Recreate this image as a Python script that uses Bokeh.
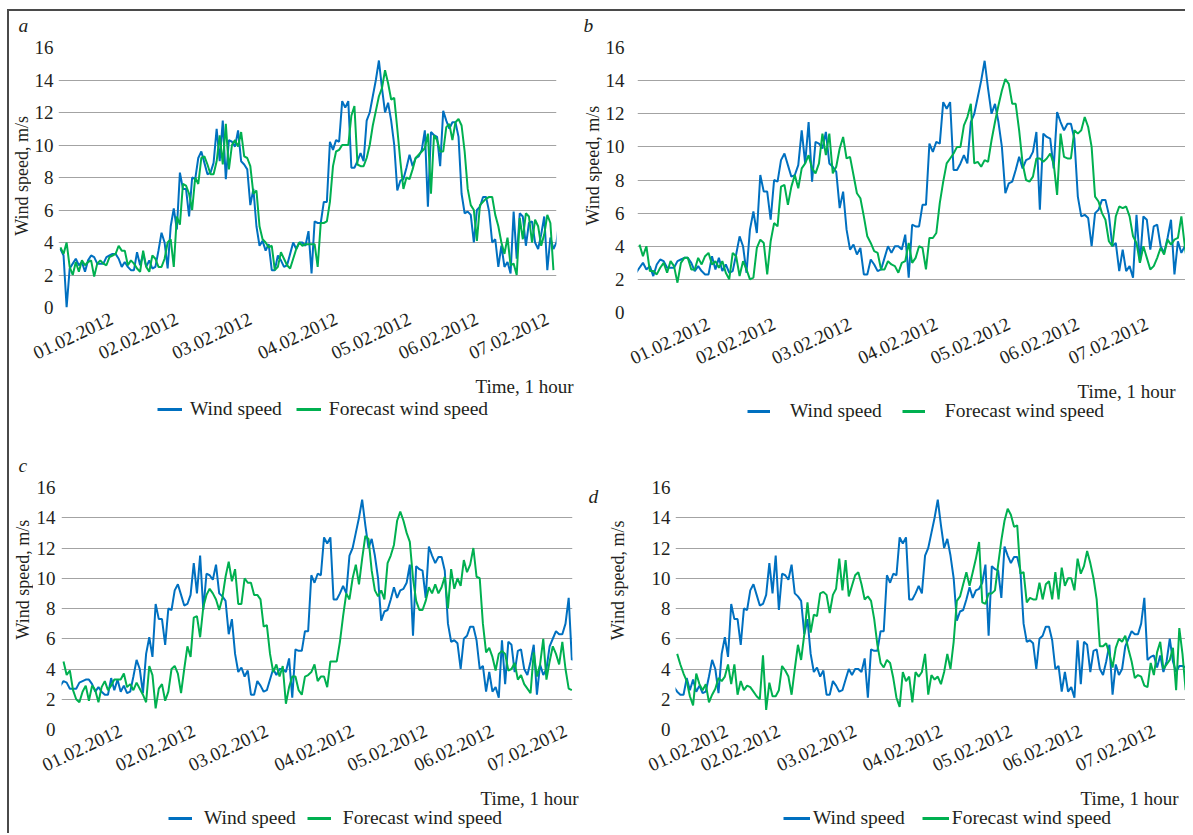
import math
from bokeh.plotting import figure
from bokeh.models import FixedTicker, Label, Legend, LegendItem, Range1d, Spacer
from bokeh.layouts import row, column
from bokeh.embed import file_html
from bokeh.resources import INLINE

# ---------------- data ----------------
date_labels = ["01.02.2012", "02.02.2012", "03.02.2012", "04.02.2012",
               "05.02.2012", "06.02.2012", "07.02.2012"]
y_ticks = [0, 2, 4, 6, 8, 10, 12, 14, 16]

# measured wind speed, hourly (hour 0 .. 183)
wind_speed = [
    3.6, 3.2, 0.0, 2.4, 2.7, 3.0, 2.6, 2.8, 2.2, 2.9,
    3.2, 3.1, 2.7, 2.7, 2.7, 3.1, 3.2, 3.3, 3.3, 3.0,
    2.5, 2.8, 2.5, 2.3, 2.3, 3.4, 2.6, 3.3, 2.5, 2.9,
    2.4, 2.5, 3.5, 4.6, 4.0, 2.4, 5.0, 6.1, 4.8, 8.3,
    7.3, 7.3, 5.6, 8.0, 7.9, 9.2, 9.6, 8.9, 8.2, 8.3,
    8.9, 11.0, 9.0, 11.5, 7.9, 10.3, 10.2, 9.9, 10.9, 9.0,
    8.8, 8.5, 6.3, 7.3, 5.0, 3.8, 4.1, 3.5, 3.9, 2.3,
    2.3, 3.2, 2.9, 2.5, 2.6, 3.3, 4.0, 3.6, 4.0, 4.0,
    3.8, 4.7, 2.1, 5.3, 5.2, 5.2, 6.5, 6.5, 10.2, 9.7,
    10.3, 10.2, 12.7, 12.3, 12.7, 8.6, 8.6, 9.0, 9.5, 9.0,
    11.5, 12.0, 13.0, 14.0, 15.2, 13.5, 12.0, 12.6, 11.5, 10.0,
    7.2, 7.8, 7.9, 8.6, 9.4, 8.7, 9.2, 9.3, 9.7, 10.9,
    6.2, 10.8, 10.6, 10.5, 8.7, 12.1, 11.5, 11.0, 11.4, 11.4,
    10.5, 7.0, 5.8, 5.9, 5.7, 4.0, 6.0, 6.2, 6.8, 6.8,
    5.9, 4.0, 4.2, 2.5, 3.8, 2.5, 2.8, 2.1, 5.9, 3.0,
    5.8, 5.6, 3.8, 5.2, 5.3, 4.0, 3.6, 4.5, 5.6, 2.3,
    4.3, 3.6, 4.0, 5.5, 6.0, 6.5, 6.3, 6.3, 7.0, 8.7,
    4.6, 4.8, 4.9, 4.1, 4.9, 3.8, 4.5, 6.0, 4.5, 3.8,
    4.2, 4.2, 4.1, 4.0,
]

# forecast, panel a (hours 0 .. 161)
forecast_a = [
    3.7, 3.3, 4.0, 2.5, 2.0, 2.8, 2.2, 2.9, 2.6, 2.8,
    2.9, 1.9, 2.7, 2.9, 2.7, 2.6, 3.1, 3.2, 3.3, 3.8,
    3.5, 3.5, 2.6, 2.9, 2.7, 2.4, 2.2, 3.5, 2.5, 2.2,
    3.2, 3.0, 2.5, 2.5, 3.0, 4.0, 4.2, 2.5, 5.6, 5.1,
    7.6, 7.5, 7.0, 6.0, 8.0, 7.6, 9.2, 9.3, 8.8, 8.2,
    8.2, 9.0, 10.6, 8.8, 11.3, 8.5, 10.0, 10.3, 9.9, 10.8,
    9.3, 9.2, 8.7, 7.0, 7.2, 5.0, 4.2, 4.0, 3.7, 3.8,
    2.3, 2.5, 3.4, 3.0, 2.6, 2.4, 3.0, 3.6, 4.0, 3.8,
    3.9, 3.9, 3.9, 3.9, 2.5, 5.2, 5.2, 5.3, 6.5, 8.7,
    9.6, 9.7, 10.0, 10.0, 10.0, 11.8, 12.4, 8.8, 8.7, 8.7,
    9.2, 10.0, 11.2, 12.1, 13.0, 13.5, 14.6, 13.8, 12.8, 12.9,
    11.0, 9.0, 7.3, 8.0, 7.9, 8.5, 9.2, 9.4, 9.6, 9.8,
    10.7, 7.0, 10.6, 10.3, 9.6, 9.6, 11.1, 11.3, 10.3, 11.4,
    11.6, 11.2, 9.6, 7.3, 6.3, 6.0, 4.1, 6.3, 6.5, 6.7,
    6.8, 6.8, 5.7, 5.0, 4.0, 3.3, 4.3, 2.6, 2.7, 2.0,
    5.5, 4.2, 5.8, 5.6, 4.0, 5.4, 5.0, 3.8, 4.5, 5.7,
    5.2, 2.3,
]

# forecast, panel b (hours 4 .. 163)
forecast_b = [
    4.1, 3.4, 4.0, 2.5, 2.5, 2.3, 2.7, 3.0, 2.4, 3.1,
    2.8, 1.8, 3.0, 3.3, 3.3, 2.6, 2.6, 3.3, 2.9, 3.4,
    3.6, 2.9, 3.1, 2.7, 3.1, 2.4, 2.0, 3.6, 3.4, 2.2,
    3.1, 2.6, 2.0, 2.1, 3.9, 4.4, 4.2, 2.3, 4.3, 5.4,
    5.2, 7.6, 7.7, 6.5, 7.6, 8.3, 7.5, 8.7, 9.0, 9.5,
    8.7, 8.4, 9.0, 10.8, 9.5, 10.8, 8.4, 8.8, 9.9, 10.6,
    9.3, 9.4, 8.3, 7.2, 6.9, 5.8, 4.6, 4.2, 3.7, 3.6,
    2.6, 2.6, 3.1, 2.9, 2.8, 2.4, 3.0, 3.1, 4.2, 3.0,
    3.3, 4.0, 3.9, 2.6, 4.5, 4.5, 4.8, 6.6, 7.9, 9.0,
    9.3, 9.6, 10.0, 10.0, 11.3, 11.8, 12.6, 9.0, 9.1, 8.8,
    9.2, 9.1, 10.4, 11.5, 12.5, 13.4, 14.1, 13.8, 12.6, 12.6,
    11.0, 9.0, 8.0, 7.9, 8.2, 9.3, 9.3, 9.1, 9.3, 9.6,
    9.0, 7.1, 10.8, 9.4, 9.3, 9.3, 11.0, 10.8, 11.0, 11.8,
    11.2, 10.0, 7.0, 6.7, 6.0, 5.6, 4.3, 4.0, 5.8, 6.4,
    6.3, 6.4, 5.8, 4.6, 4.2, 3.0, 4.0, 3.3, 2.6, 2.8,
    3.3, 3.9, 3.5, 4.4, 4.1, 4.4, 4.5, 5.8, 4.0, 2.6,
]

# forecast, panel c (hours 10 .. 170)
forecast_c = [
    4.5, 3.6, 3.9, 2.6, 2.0, 1.8, 2.5, 2.9, 1.9, 2.9,
    2.6, 1.8, 2.8, 3.2, 2.6, 2.9, 3.3, 3.3, 3.3, 3.7,
    2.8, 3.0, 2.6, 3.1, 2.7, 2.3, 1.8, 4.2, 3.6, 1.4,
    2.7, 3.0, 1.9, 2.5, 4.0, 4.2, 3.7, 2.4, 4.0, 5.5,
    4.8, 7.4, 7.5, 6.1, 8.1, 8.9, 9.3, 9.0, 8.6, 7.9,
    8.7, 10.1, 11.1, 9.8, 10.6, 8.3, 8.3, 10.0, 9.7, 9.7,
    8.9, 8.9, 8.6, 6.8, 6.9, 5.0, 3.8, 4.3, 3.5, 4.2,
    1.7, 2.8, 3.5, 3.5, 2.6, 2.3, 3.5, 3.6, 3.8, 4.3,
    3.2, 3.5, 3.5, 2.8, 4.5, 4.5, 4.5, 5.8, 7.5, 9.0,
    8.6, 10.0, 10.9, 9.6, 11.3, 12.8, 12.6, 10.5, 9.2, 8.8,
    9.2, 8.6, 11.0, 11.5, 12.2, 13.8, 14.4, 13.8, 13.0, 12.4,
    10.0, 8.5, 7.9, 7.9, 8.5, 9.4, 9.0, 9.6, 9.0, 9.4,
    10.1, 8.0, 10.6, 9.3, 10.0, 9.5, 11.2, 10.4, 10.9, 12.0,
    10.1, 10.0, 7.0, 5.1, 5.4, 4.8, 3.9, 5.0, 5.2, 5.0,
    3.9, 4.0, 4.4, 3.3, 3.6, 3.0, 2.7, 2.4, 5.1, 3.5,
    4.3, 6.0, 3.3, 4.5, 5.5, 5.0, 4.3, 5.8, 4.0, 2.7,
    2.6,
]

# forecast, panel d (hours 22 .. 182)
forecast_d = [
    5.0, 4.3, 3.7, 3.2, 2.2, 1.6, 3.7, 3.0, 2.6, 3.0,
    1.8, 2.3, 2.7, 3.4, 3.2, 3.5, 4.3, 3.0, 4.3, 2.3,
    3.2, 2.6, 2.9, 2.8, 2.5, 2.2, 2.0, 4.9, 1.3, 3.1,
    2.2, 2.2, 2.6, 4.2, 3.9, 3.5, 2.3, 4.0, 5.6, 4.6,
    6.3, 8.4, 6.4, 7.6, 7.5, 9.0, 9.1, 8.9, 7.7, 8.9,
    9.3, 11.3, 9.2, 11.2, 8.8, 9.5, 10.2, 10.4, 9.6, 8.6,
    8.8, 8.5, 7.3, 5.6, 4.4, 4.1, 4.6, 4.4, 3.4, 2.1,
    1.5, 3.8, 3.2, 3.5, 1.8, 3.8, 3.5, 3.8, 5.0, 2.3,
    3.6, 3.3, 3.5, 3.0, 3.8, 5.0, 4.0, 5.8, 8.5, 8.8,
    9.6, 10.4, 9.5, 10.4, 11.3, 12.4, 8.4, 8.3, 9.0, 9.0,
    9.2, 10.9, 12.5, 13.8, 14.6, 14.2, 13.4, 13.5, 10.3, 10.4,
    8.4, 8.7, 8.6, 8.6, 9.7, 8.6, 9.6, 9.8, 8.6, 10.4,
    8.6, 10.7, 9.5, 10.0, 10.0, 9.2, 11.3, 10.3, 10.8, 11.8,
    11.0, 10.0, 8.6, 5.5, 5.5, 5.7, 5.0, 4.1, 5.4, 6.0,
    5.8, 6.2, 5.3, 4.5, 3.4, 3.6, 3.5, 2.9, 2.8, 4.4,
    3.6, 5.1, 5.8, 4.0, 4.3, 4.6, 5.4, 2.6, 6.7, 5.0,
    2.6,
]

forecast_first_hour = {"a": 0, "b": 4, "c": 10, "d": 22}

# ---------------- styling ----------------
FONT = "Liberation Serif"
BLUE = "#0070C0"
GREEN = "#00B050"
GRID = "#A3A3A3"
TEXT = "#231F20"

# geometry of each quadrant (pixels): top strip, left strip, main plot, bottom strip
panels = {
    "a": dict(forecast=forecast_a, top_h=24, left_w=22, main_w=549, main_h=338, bot_h=62,
              mbl=24, mbr=24, mbt=12, mbb=66,
              xr=(-0.65, 162.0), xticks=[14, 38, 62, 90, 114, 136, 159],
              xstand=10, ystand=5,
              letter=("top", 9, 10.3), ylab=(12.6, 171), time=(564, 48.75),
              leg=(148, 15.2), gw=25, lst=8, sp=14),
    "b": dict(forecast=forecast_b, top_h=24, left_w=22, main_w=583, main_h=343, bot_h=57,
              mbl=32, mbr=0, mbt=12, mbb=66,
              xr=(3.42, 162.2), xticks=[24, 43, 65, 90, 111, 131, 151],
              xstand=10, ystand=13,
              letter=("top", 3, 10.3), ylab=(12.6, 190), time=(595, 43.75),
              leg=(167, 12.8), gw=23, lst=20, sp=20),
    "c": dict(forecast=forecast_c, top_h=40, left_w=24, main_w=547, main_h=310, bot_h=48,
              mbl=26, mbr=8, mbt=12, mbb=56,
              xr=(9.37, 170.2), xticks=[28, 51, 74, 101, 124, 145, 168],
              xstand=0, ystand=6,
              letter=("top", 9, 10.4), ylab=(13.6, 192), time=(569, 34.75),
              leg=(159, 3.8), gw=24, lst=12, sp=11),
    "d": dict(forecast=forecast_d, top_h=40, left_w=66, main_w=539, main_h=310, bot_h=48,
              mbl=29, mbr=0, mbt=12, mbb=56,
              xr=(21.47, 181.95), xticks=[32, 54, 78, 105, 127, 149, 172],
              xstand=0, ystand=5,
              letter=("left", 8, 297.9), ylab=(37.7, 191), time=(598, 34.75),
              leg=(203, 3.8), gw=27, lst=3, sp=17),
}


def strip(w, h):
    """A text-only figure whose frame covers the whole canvas (1 unit = 1 px)."""
    s = figure(width=w, height=h, x_range=Range1d(0, w), y_range=Range1d(0, h),
               x_axis_type=None, y_axis_type=None, toolbar_location=None,
               output_backend="svg", min_border=0)
    s.title.visible = False
    s.outline_line_color = None
    s.background_fill_color = "white"
    s.border_fill_color = "white"
    return s


def text(s, x, y, t, size="19px", align="left", angle=0.0, style="normal"):
    s.add_layout(Label(x=x, y=y, text=t, angle=angle, text_font=FONT,
                       text_font_size=size, text_font_style=style, text_color=TEXT,
                       text_align=align, text_baseline="alphabetic"))


def make_quadrant(key):
    c = panels[key]
    fc = c["forecast"]
    start = forecast_first_hour[key]
    hours_w = list(range(len(wind_speed)))
    hours_f = list(range(start, start + len(fc)))
    full_w = c["left_w"] + c["main_w"]

    # ---- main plot ----
    p = figure(width=c["main_w"], height=c["main_h"], x_range=Range1d(*c["xr"]),
               y_range=Range1d(0, 16), output_backend="svg", toolbar_location=None,
               min_border_left=c["mbl"], min_border_right=c["mbr"],
               min_border_top=c["mbt"], min_border_bottom=c["mbb"])
    p.title.visible = False
    p.outline_line_color = None
    p.background_fill_color = "white"
    p.border_fill_color = "white"

    p.line(hours_w, wind_speed, color=BLUE, line_width=2)
    p.line(hours_f, fc, color=GREEN, line_width=2)

    xa = p.xaxis[0]
    xa.ticker = FixedTicker(ticks=c["xticks"])
    xa.major_label_overrides = {t: lab for t, lab in zip(c["xticks"], date_labels)}
    xa.major_label_orientation = 0.44
    xa.major_label_standoff = c["xstand"]
    ya = p.yaxis[0]
    ya.ticker = FixedTicker(ticks=y_ticks)
    ya.major_label_standoff = c["ystand"]
    for ax in (xa, ya):
        ax.axis_line_color = None
        ax.major_tick_line_color = None
        ax.minor_tick_line_color = None
        ax.major_tick_out = 0
        ax.major_tick_in = 0
        ax.minor_tick_out = 0
        ax.minor_tick_in = 0
        ax.major_label_text_font = FONT
        ax.major_label_text_font_size = "19px"
        ax.major_label_text_color = TEXT
    p.xgrid.visible = False
    p.ygrid.grid_line_color = GRID
    p.ygrid.grid_line_width = 1

    # ---- left strip: y-axis title (and the letter for panel d) ----
    ls = strip(c["left_w"], c["main_h"])
    yx, yy = c["ylab"]
    text(ls, yx, yy, "Wind speed, m/s", size="18px", align="center", angle=math.pi / 2)

    # ---- top strip: panel letter ----
    where, lx, ly = c["letter"]
    if where == "top":
        ts = strip(full_w, c["top_h"])
        text(ts, lx, ly, key, size="19.5px", style="italic")
    else:
        ts = Spacer(width=full_w, height=c["top_h"])
        text(ls, lx, ly, key, size="19.5px", style="italic")

    # ---- bottom strip: "Time, 1 hour" and the series legend ----
    bs = strip(full_w, c["bot_h"])
    tx, ty = c["time"]
    text(bs, tx, ty, "Time, 1 hour", align="right")
    # sample renderers for the legend: their points lie outside the strip's range
    r1 = bs.line(x=[-50, -40], y=[-50, -50], color=BLUE, line_width=3)
    r2 = bs.line(x=[-50, -40], y=[-50, -50], color=GREEN, line_width=3)
    legend = Legend(items=[LegendItem(label="Wind speed", renderers=[r1]),
                           LegendItem(label="Forecast wind speed", renderers=[r2])],
                    location=c["leg"], orientation="horizontal",
                    glyph_width=c["gw"], glyph_height=20, label_height=20,
                    label_standoff=c["lst"], spacing=c["sp"], padding=0, margin=0,
                    border_line_color=None, background_fill_alpha=0,
                    label_text_font=FONT, label_text_font_size="19.5px",
                    label_text_color=TEXT)
    bs.add_layout(legend)

    return column(ts, row(ls, p), bs)


qa, qb, qc, qd = (make_quadrant(k) for k in "abcd")
inner = column(row(qa, qb), row(qc, qd),
               styles={"border-top": "2px solid #4a4a4a",
                       "border-left": "2px solid #4a4a4a"})
page = column(Spacer(width=10, height=9), row(Spacer(width=7, height=10), inner))

open("out.html", "w").write(file_html(page, INLINE))
